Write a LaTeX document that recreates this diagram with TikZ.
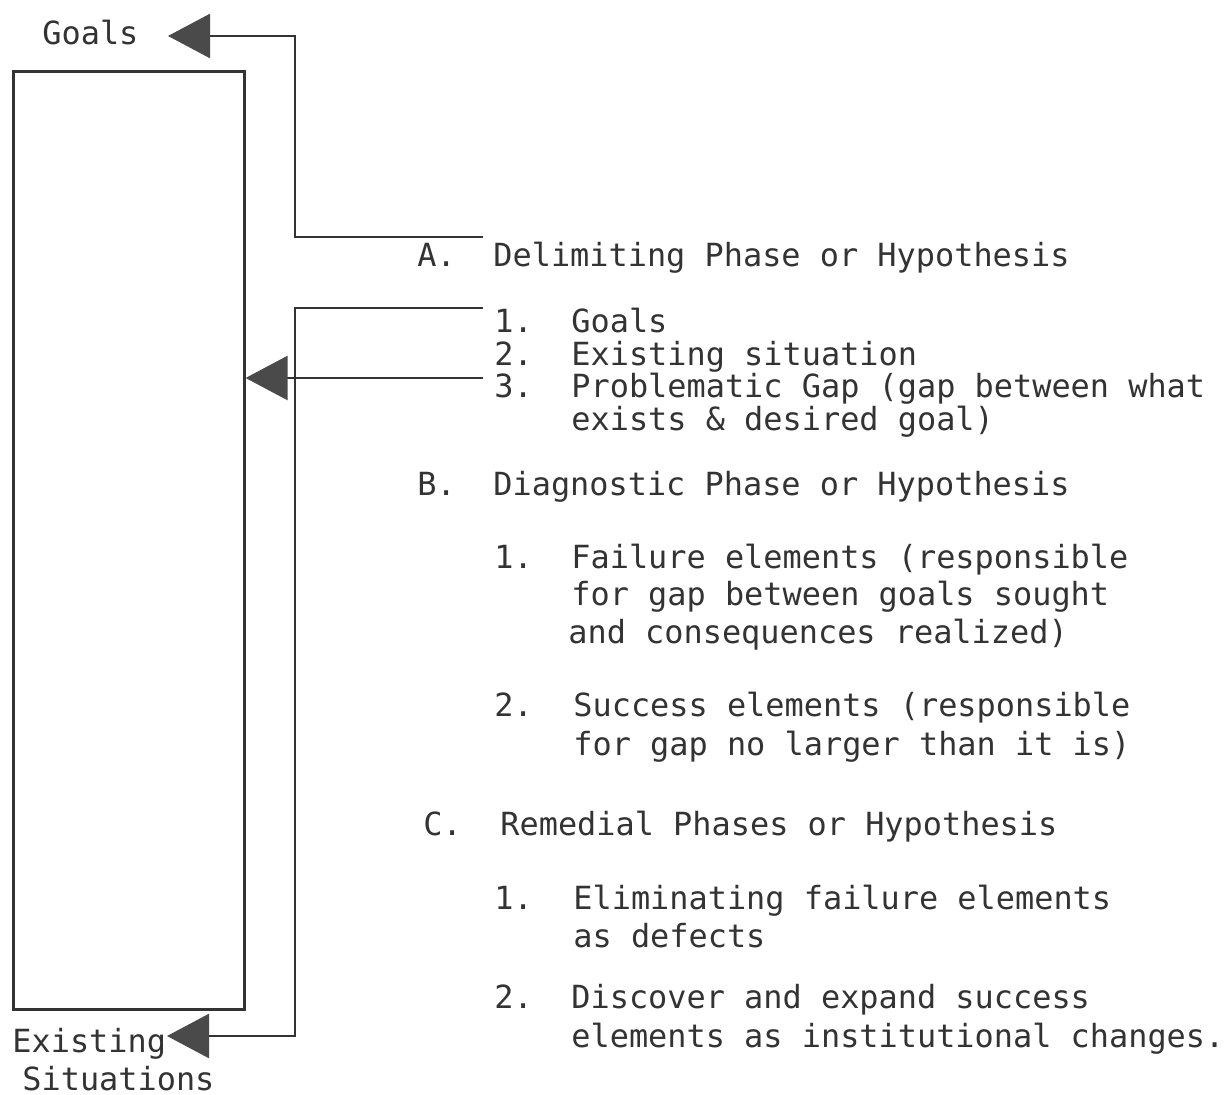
\documentclass[tikz,border=0pt]{standalone}
\usepackage{fontspec}
\setmonofont{DejaVu Sans Mono}
\usetikzlibrary{arrows.meta}
\definecolor{ink}{HTML}{333333}
\definecolor{tipfill}{HTML}{4a4a4a}
\begin{document}
\begin{tikzpicture}[x=0.5pt,y=-0.5pt,
  txt/.style={anchor=base west, inner sep=0pt, text=ink, font=\ttfamily\fontsize{15.95}{19}\selectfont},
  conn/.style={draw=ink, line width=1.3pt, line join=miter},
  arr/.style={conn, -{Triangle[length=21pt,width=22pt,color=tipfill]}},
  boxst/.style={draw=ink, line width=1.3pt, minimum width=115.5pt, minimum height=469pt, inner sep=0pt, anchor=north west}]
\useasboundingbox (0,0) rectangle (1230,1095);

% box
\node[boxst] (box) at (12,70) {};

% side labels
\node[txt] (goals) at (42,45) {Goals};
\node[txt] (exist1) at (12,1052) {Existing};
\node[txt] (exist2) at (22,1090) {Situations};

% connector coordinates
\coordinate (cA) at (483,237);
\coordinate (c1) at (483,308);
\coordinate (c3) at (483,378);
\coordinate (gtip) at (168,36);
\coordinate (etip) at (167,1036);

% connectors
\draw[arr] (cA) -- (295,237) -- (295,36) -- (gtip);
\draw[arr] (c1) -- (295,308) -- (295,1036) -- (etip);
\draw[arr] (c3) -- (box.east |- c3);

% outline text
\node[txt] (la) at (417,267) {A.};
\node[txt] (ta) at (493,267) {Delimiting Phase or Hypothesis};
\node[txt] (la1) at (494,333) {1.};
\node[txt] (ta1) at (571,333) {Goals};
\node[txt] (la2) at (494,366) {2.};
\node[txt] (ta2) at (571,366) {Existing situation};
\node[txt] (la3) at (494,398) {3.};
\node[txt] (ta3) at (571,398) {Problematic Gap (gap between what};
\node[txt] (ta3b) at (571,431) {exists \& desired goal)};

\node[txt] (lb) at (417,496) {B.};
\node[txt] (tb) at (493,496) {Diagnostic Phase or Hypothesis};
\node[txt] (lb1) at (494,568) {1.};
\node[txt] (tb1) at (571,568) {Failure elements (responsible};
\node[txt] (tb1b) at (571,605) {for gap between goals sought};
\node[txt] (tb1c) at (568,643) {and consequences realized)};
\node[txt] (lb2) at (494,716) {2.};
\node[txt] (tb2) at (573,716) {Success elements (responsible};
\node[txt] (tb2b) at (573,755) {for gap no larger than it is)};

\node[txt] (lc) at (423,835) {C.};
\node[txt] (tc) at (500,835) {Remedial Phases or Hypothesis};
\node[txt] (lc1) at (494,909) {1.};
\node[txt] (tc1) at (573,909) {Eliminating failure elements};
\node[txt] (tc1b) at (573,947) {as defects};
\node[txt] (lc2) at (494,1008) {2.};
\node[txt] (tc2) at (571,1008) {Discover and expand success};
\node[txt] (tc2b) at (571,1047) {elements as institutional changes.};
\end{tikzpicture}
\end{document}
